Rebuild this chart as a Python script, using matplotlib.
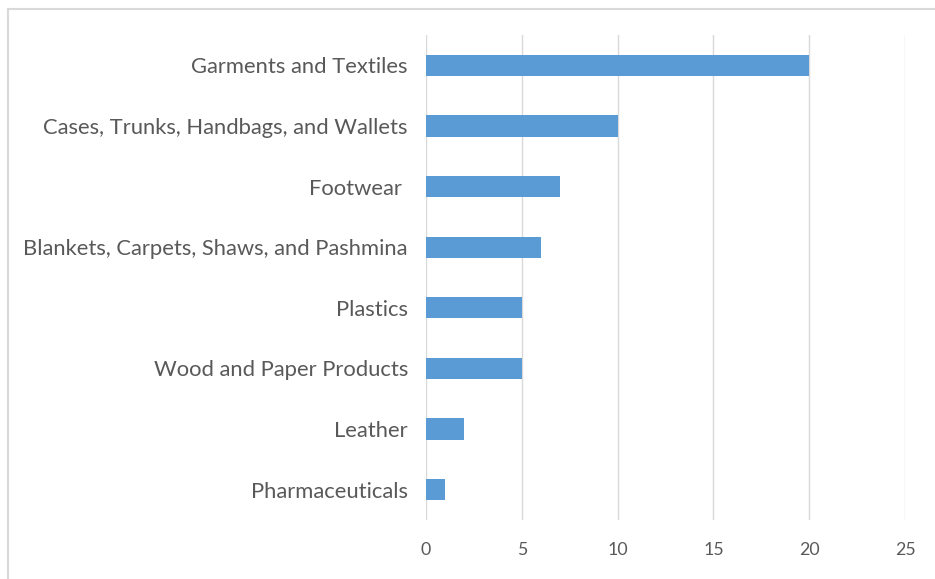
import matplotlib
matplotlib.use("Agg")
import matplotlib.pyplot as plt
from matplotlib.lines import Line2D

# product categories, top to bottom
categories = [
    "Garments and Textiles",
    "Cases, Trunks, Handbags, and Wallets",
    "Footwear ",
    "Blankets, Carpets, Shaws, and Pashmina",
    "Plastics",
    "Wood and Paper Products",
    "Leather",
    "Pharmaceuticals",
]
values = [20, 10, 7, 6, 5, 5, 2, 1]
xticks = [0, 5, 10, 15, 20, 25]

text_col = "#595959"
plt.rcParams["font.family"] = ["Lato", "DejaVu Sans"]

fig = plt.figure(figsize=(9.35, 5.79), dpi=100)
ax = fig.add_axes([426 / 935, 1 - 520 / 579, 479 / 935, 485 / 579])

ypos = list(range(len(categories)))
ax.barh(ypos, values, height=0.35, color="#5B9BD5", zorder=3)
ax.set_ylim(len(categories) - 0.5, -0.5)
ax.set_yticks(ypos)
ax.set_yticklabels(categories)
ax.set_xlim(0, 25)
ax.set_xticks(xticks)

ax.grid(axis="x", color="#D9D9D9", linewidth=1)
for s in ax.spines.values():
    s.set_visible(False)
ax.tick_params(axis="both", length=0, labelcolor=text_col)
ax.tick_params(axis="y", pad=13, labelsize=15.8)
ax.tick_params(axis="x", pad=16, labelsize=12.8)

# chart frame, only top and left edges fall inside the image
fig.add_artist(Line2D([7.5 / 935, 1], [1 - 8.5 / 579] * 2, color="#D9D9D9", lw=1.5))
fig.add_artist(Line2D([7.5 / 935] * 2, [0, 1 - 8.5 / 579], color="#D9D9D9", lw=1.5))

fig.savefig("out.png", dpi=100)
